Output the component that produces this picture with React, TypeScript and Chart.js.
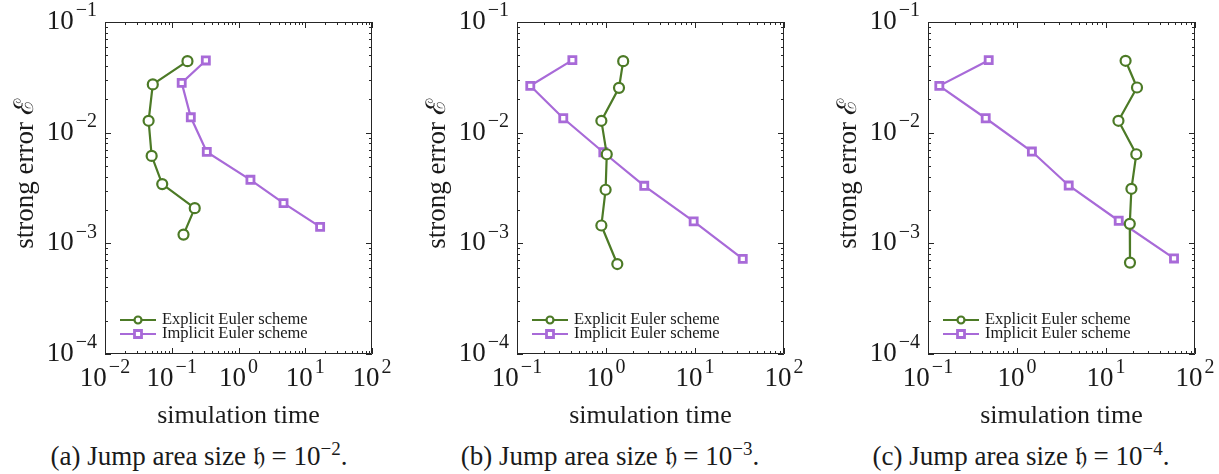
import React, { useEffect, useRef } from "react";
import { Chart, registerables } from "chart.js";

Chart.register(...registerables);

// ---------- data ----------
const seriesLabels = ["Explicit Euler scheme", "Implicit Euler scheme"];
const panelLetters = ["a", "b", "c"];
const captionExponents = [-2, -3, -4];

const yTickExponents = [-4, -3, -2, -1];
const xTickExponentsA = [-2, -1, 0, 1, 2];
const xTickExponentsBC = [-1, 0, 1, 2];

// (a) h = 1e-2
const timeExplicitA = [0.172, 0.052, 0.045, 0.05, 0.072, 0.221, 0.15];
const errorExplicitA = [0.0443, 0.0273, 0.0128, 0.00617, 0.00343, 0.00208, 0.0012];
const timeImplicitA = [0.324, 0.141, 0.193, 0.335, 1.51, 4.73, 16.7];
const errorImplicitA = [0.0449, 0.0282, 0.01377, 0.0067, 0.00375, 0.00231, 0.00141];

// (b) h = 1e-3
const timeExplicitB = [1.56, 1.4, 0.887, 1.02, 0.99, 0.887, 1.34];
const errorExplicitB = [0.0443, 0.0254, 0.0128, 0.00638, 0.00305, 0.00145, 0.00065];
const timeImplicitB = [0.419, 0.141, 0.331, 0.933, 2.69, 9.66, 34.4];
const errorImplicitB = [0.0452, 0.0265, 0.0135, 0.00665, 0.00331, 0.00158, 0.000724];

// (c) h = 1e-4
const timeExplicitC = [16.6, 22.3, 13.8, 21.9, 19.3, 18.5, 18.6];
const errorExplicitC = [0.0446, 0.0256, 0.0128, 0.00638, 0.00311, 0.0015, 0.00067];
const timeImplicitC = [0.481, 0.134, 0.445, 1.47, 3.81, 13.9, 58.1];
const errorImplicitC = [0.0452, 0.0265, 0.0135, 0.00675, 0.00333, 0.0016, 0.00073];

// ---------- styling / layout ----------
const GREEN = "#4c7a26";
const PURPLE = "#a86ad8";
const AXIS = "#262626";
const TEXT = "#1a1a1a";
const FONT = "'Liberation Serif', 'DejaVu Serif', serif";

const CANVAS_H = 432;
const PLOT_TOP = 22;
const PLOT_BOTTOM = 354;

type PanelDef = {
  left: number;
  width: number;
  plotLeft: number;
  plotRight: number;
  xMin: number;
  xMax: number;
  xExps: number[];
  tx: number[];
  ex: number[];
  ti: number[];
  ei: number[];
  captionCenter: number;
};

const panels: PanelDef[] = [
  { left: 0, width: 400, plotLeft: 105, plotRight: 372, xMin: 1e-2, xMax: 1e2, xExps: xTickExponentsA,
    tx: timeExplicitA, ex: errorExplicitA, ti: timeImplicitA, ei: errorImplicitA, captionCenter: 199 },
  { left: 405, width: 400, plotLeft: 517, plotRight: 784, xMin: 1e-1, xMax: 1e2, xExps: xTickExponentsBC,
    tx: timeExplicitB, ex: errorExplicitB, ti: timeImplicitB, ei: errorImplicitB, captionCenter: 610 },
  { left: 815, width: 404, plotLeft: 928, plotRight: 1195, xMin: 1e-1, xMax: 1e2, xExps: xTickExponentsBC,
    tx: timeExplicitC, ex: errorExplicitC, ti: timeImplicitC, ei: errorImplicitC, captionCenter: 1021 },
];

function drawPow(ctx: CanvasRenderingContext2D, exp: number, x: number, y: number, align: "center" | "right") {
  const base = "10";
  const sup = (exp < 0 ? "\u2212" : "") + Math.abs(exp);
  ctx.font = `27px ${FONT}`;
  const wb = ctx.measureText(base).width;
  ctx.font = `20px ${FONT}`;
  const we = ctx.measureText(sup).width;
  const gap = 2;
  const total = wb + gap + we;
  const start = align === "center" ? x - total / 2 : x - total;
  ctx.textAlign = "left";
  ctx.textBaseline = "middle";
  ctx.font = `27px ${FONT}`;
  ctx.fillText(base, start, y);
  ctx.font = `20px ${FONT}`;
  ctx.fillText(sup, start + wb + gap, y - 11);
}

const decorPlugin = {
  id: "decor",
  afterDraw(chart: any, _args: any, opts: any) {
    const { ctx, chartArea } = chart;
    const { left, right, top, bottom } = chartArea;
    const xs = chart.scales.x;
    const ys = chart.scales.y;
    ctx.save();
    ctx.strokeStyle = AXIS;
    ctx.lineWidth = 1;
    ctx.beginPath();
    ctx.rect(left + 0.5, top + 0.5, right - left - 1, bottom - top - 1);
    ctx.stroke();

    // inward ticks on all four sides
    const minorLen = 3;
    const majorLen = 6;
    ctx.beginPath();
    const xd0 = Math.floor(Math.log10(xs.min));
    const xd1 = Math.ceil(Math.log10(xs.max));
    for (let d = xd0; d <= xd1; d++) {
      for (let m = 1; m <= 9; m++) {
        const v = m * Math.pow(10, d);
        if (v < xs.min * 0.999 || v > xs.max * 1.001) continue;
        const px = Math.round(xs.getPixelForValue(v)) + 0.5;
        const len = m === 1 ? majorLen : minorLen;
        ctx.moveTo(px, bottom);
        ctx.lineTo(px, bottom - len);
        ctx.moveTo(px, top);
        ctx.lineTo(px, top + len);
      }
    }
    const yd0 = Math.floor(Math.log10(ys.min));
    const yd1 = Math.ceil(Math.log10(ys.max));
    for (let d = yd0; d <= yd1; d++) {
      for (let m = 1; m <= 9; m++) {
        const v = m * Math.pow(10, d);
        if (v < ys.min * 0.999 || v > ys.max * 1.001) continue;
        const py = Math.round(ys.getPixelForValue(v)) + 0.5;
        const len = m === 1 ? majorLen : minorLen;
        ctx.moveTo(left, py);
        ctx.lineTo(left + len, py);
        ctx.moveTo(right, py);
        ctx.lineTo(right - len, py);
      }
    }
    ctx.stroke();

    // tick labels
    ctx.fillStyle = TEXT;
    for (const e of opts.xExps as number[]) {
      drawPow(ctx, e, xs.getPixelForValue(Math.pow(10, e)), bottom + 25, "center");
    }
    for (const e of opts.yExps as number[]) {
      drawPow(ctx, e, left - 8, ys.getPixelForValue(Math.pow(10, e)), "right");
    }

    // axis titles
    ctx.font = `26px ${FONT}`;
    ctx.textAlign = "center";
    ctx.textBaseline = "middle";
    ctx.fillText("simulation time", (left + right) / 2, bottom + 62);
    ctx.save();
    ctx.translate(left - 79, 174);
    ctx.rotate(-Math.PI / 2);
    ctx.font = `27px ${FONT}`;
    ctx.fillText("strong error \u2130", 0, 0);
    ctx.restore();

    // legend
    const lx0 = left + 15;
    const lx1 = left + 51;
    const rows = [bottom - 34, bottom - 20];
    chart.data.datasets.forEach((ds: any, i: number) => {
      const y = rows[i];
      ctx.strokeStyle = ds.borderColor;
      ctx.lineWidth = 2;
      ctx.beginPath();
      ctx.moveTo(lx0, y);
      ctx.lineTo(lx1, y);
      ctx.stroke();
      const cx = (lx0 + lx1) / 2;
      ctx.fillStyle = "#ffffff";
      ctx.lineWidth = ds.pointBorderWidth;
      ctx.beginPath();
      if (ds.pointStyle === "circle") {
        ctx.arc(cx, y, 3.5, 0, Math.PI * 2);
      } else {
        ctx.rect(cx - 3.5, y - 3.5, 7, 7);
      }
      ctx.fill();
      ctx.stroke();
      ctx.fillStyle = TEXT;
      ctx.font = `16.5px ${FONT}`;
      ctx.textAlign = "left";
      ctx.textBaseline = "middle";
      ctx.fillText(ds.label, left + 57, y);
    });
    ctx.restore();
  },
};

function Panel({ def, index }: { def: PanelDef; index: number }) {
  const ref = useRef<HTMLCanvasElement | null>(null);
  useEffect(() => {
    if (!ref.current) return;
    const yAxisWidth = def.plotLeft - def.left;
    const rightPad = def.left + def.width - def.plotRight;
    const chart = new Chart(ref.current, {
      type: "scatter",
      data: {
        datasets: [
          {
            label: seriesLabels[0],
            data: def.tx.map((t, i) => ({ x: t, y: def.ex[i] })),
            showLine: true,
            borderColor: GREEN,
            borderWidth: 2.2,
            pointStyle: "circle",
            pointRadius: 5,
            pointBorderWidth: 2.2,
            pointBackgroundColor: "#ffffff",
            pointBorderColor: GREEN,
          },
          {
            label: seriesLabels[1],
            data: def.ti.map((t, i) => ({ x: t, y: def.ei[i] })),
            showLine: true,
            borderColor: PURPLE,
            borderWidth: 2.2,
            pointStyle: "rect",
            pointRadius: 5,
            pointBorderWidth: 2.8,
            pointBackgroundColor: "#ffffff",
            pointBorderColor: PURPLE,
          },
        ],
      },
      options: {
        animation: false,
        responsive: false,
        devicePixelRatio: 1,
        layout: { padding: { top: PLOT_TOP, right: rightPad, left: 0, bottom: 0 } },
        plugins: {
          legend: { display: false },
          tooltip: { enabled: false },
          decor: { xExps: def.xExps, yExps: yTickExponents },
        } as any,
        scales: {
          x: {
            type: "logarithmic",
            min: def.xMin,
            max: def.xMax,
            grid: { display: false },
            border: { display: false },
            ticks: { display: false },
            afterFit: (s: any) => {
              s.height = CANVAS_H - PLOT_BOTTOM;
            },
          },
          y: {
            type: "logarithmic",
            min: 1e-4,
            max: 1e-1,
            grid: { display: false },
            border: { display: false },
            ticks: { display: false },
            afterFit: (s: any) => {
              s.width = yAxisWidth;
            },
          },
        },
      },
      plugins: [decorPlugin],
    });
    return () => chart.destroy();
  }, [def]);

  return (
    <>
      <canvas
        ref={ref}
        width={def.width}
        height={CANVAS_H}
        style={{ position: "absolute", left: def.left, top: 0, width: def.width, height: CANVAS_H }}
      />
      <div
        style={{
          position: "absolute",
          left: def.captionCenter - 200,
          width: 400,
          top: 440,
          textAlign: "center",
          fontFamily: FONT,
          fontSize: 27,
          color: TEXT,
          whiteSpace: "nowrap",
          lineHeight: "32px",
        }}
      >
        ({panelLetters[index]}) Jump area size {"\u{1D525}"} = 10
        <sup style={{ fontSize: 19, verticalAlign: "0.55em", lineHeight: 0 }}>
          {"\u2212" + Math.abs(captionExponents[index])}
        </sup>
        .
      </div>
    </>
  );
}

export default function App() {
  return (
    <div style={{ position: "absolute", left: 0, top: 0, width: 1219, height: 474, background: "#ffffff", overflow: "hidden" }}>
      {panels.map((p, i) => (
        <Panel key={i} def={p} index={i} />
      ))}
    </div>
  );
}
